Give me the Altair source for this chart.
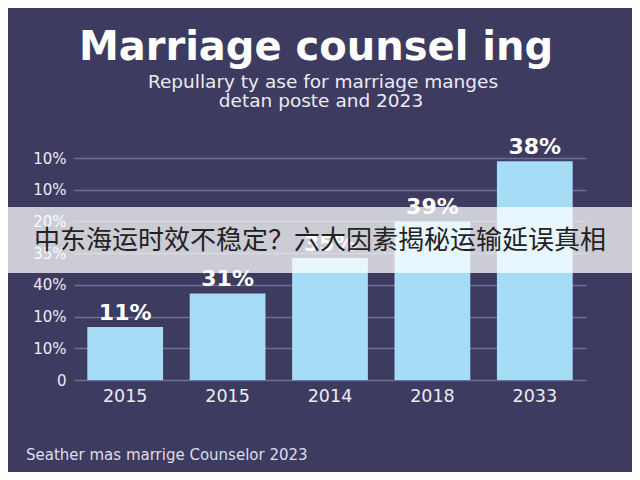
"""Marriage counseling bar chart with overlay banner, recreated with Altair."""

import json

import altair as alt
import pandas as pd

# --- data ---
YEARS = ["2015", "2015", "2014", "2018", "2033"]
HEIGHTS = [16.7, 27.3, 38.5, 50.0, 69.0]  # bar heights in axis units
BAR_LABELS = ["11%", "31%", "35%", "39%", "38%"]
Y_TICK_LABELS = ["0", "10%", "10%", "40%", "35%", "20%", "10%", "10%"]
Y_TICKS = [0, 10, 20, 30, 40, 50, 60, 70]

TITLE = "Marriage counsel ing"
SUBTITLE = ["Repullary ty ase for marriage manges", "detan poste and 2023"]
FOOTER = "Seather mas marrige Counselor 2023"
BANNER = "中东海运时效不稳定？六大因素揭秘运输延误真相"

BG = "#3d3b5f"
BAR = "#a6dcf5"
GRID = "#6f6e93"
TEXT = "#ecebf3"
FONT = "DejaVu Sans"

PLOT_W, PLOT_H = 512, 222

df = pd.DataFrame(
    {"pos": list(range(len(YEARS))), "value": HEIGHTS, "label": BAR_LABELS}
)

year_expr = json.dumps(YEARS) + "[datum.value]"
ytick_expr = json.dumps(Y_TICK_LABELS) + "[round(datum.value / 10)]"

x_enc = alt.X(
    "pos:O",
    title=None,
    scale=alt.Scale(paddingInner=0.26, paddingOuter=0.13),
    axis=alt.Axis(
        labelExpr=year_expr,
        labelAngle=0,
        labelFont=FONT,
        labelFontSize=17.5,
        labelColor=TEXT,
        labelPadding=7,
        ticks=False,
        domain=False,
        grid=False,
    ),
)
y_enc = alt.Y(
    "value:Q",
    title=None,
    scale=alt.Scale(domain=[0, 70], nice=False),
    axis=alt.Axis(
        values=Y_TICKS,
        labelExpr=ytick_expr,
        labelFont=FONT,
        labelFontSize=15,
        labelColor=TEXT,
        labelPadding=8,
        ticks=False,
        domain=False,
        grid=True,
        gridColor=GRID,
        gridWidth=1.5,
    ),
)

base = alt.Chart(df).encode(x=x_enc, y=y_enc)

bars = base.mark_bar(color=BAR, cornerRadius=0)
bar_text = base.mark_text(
    dy=-14, font=FONT, fontSize=22, fontWeight="bold", color="white"
).encode(text="label:N")


def note(text, x, y, **style):
    """Free-standing text placed in view pixels (title, footer, banner)."""
    return (
        alt.Chart(pd.DataFrame({"t": [text]}))
        .mark_text(**style)
        .encode(x=alt.value(x), y=alt.value(y), text="t:N")
    )


title = note(
    TITLE, 242, -110, font=FONT, fontSize=40, fontWeight="bold",
    color="white", baseline="middle",
)
sub1 = note(SUBTITLE[0], 249, -76, font=FONT, fontSize=18.5, color=TEXT, baseline="middle")
sub2 = note(SUBTITLE[1], 247, -57, font=FONT, fontSize=18.5, color=TEXT, baseline="middle")
footer = note(
    FOOTER, -48, 297, font=FONT, fontSize=15, color="#dedde9",
    align="left", baseline="middle",
)

banner_box = (
    alt.Chart(pd.DataFrame({"k": [0]}))
    .mark_rect(color="white", opacity=0.74)
    .encode(x=alt.value(-82), x2=alt.value(566), y=alt.value(49), y2=alt.value(115))
)
banner_text = note(
    BANNER, 246, 83, font="Noto Sans CJK SC", fontSize=26, color="#222222",
    baseline="middle",
)

chart = (
    alt.layer(bars, bar_text, title, sub1, sub2, footer, banner_box, banner_text)
    .properties(
        width=PLOT_W,
        height=PLOT_H,
        autosize=alt.AutoSizeParams(type="none"),
        padding={"left": 66, "top": 150, "right": 46, "bottom": 92},
        background=BG,
    )
    .configure_view(stroke=None)
)

chart.save("out.html", embed_options={"renderer": "svg", "actions": False})
